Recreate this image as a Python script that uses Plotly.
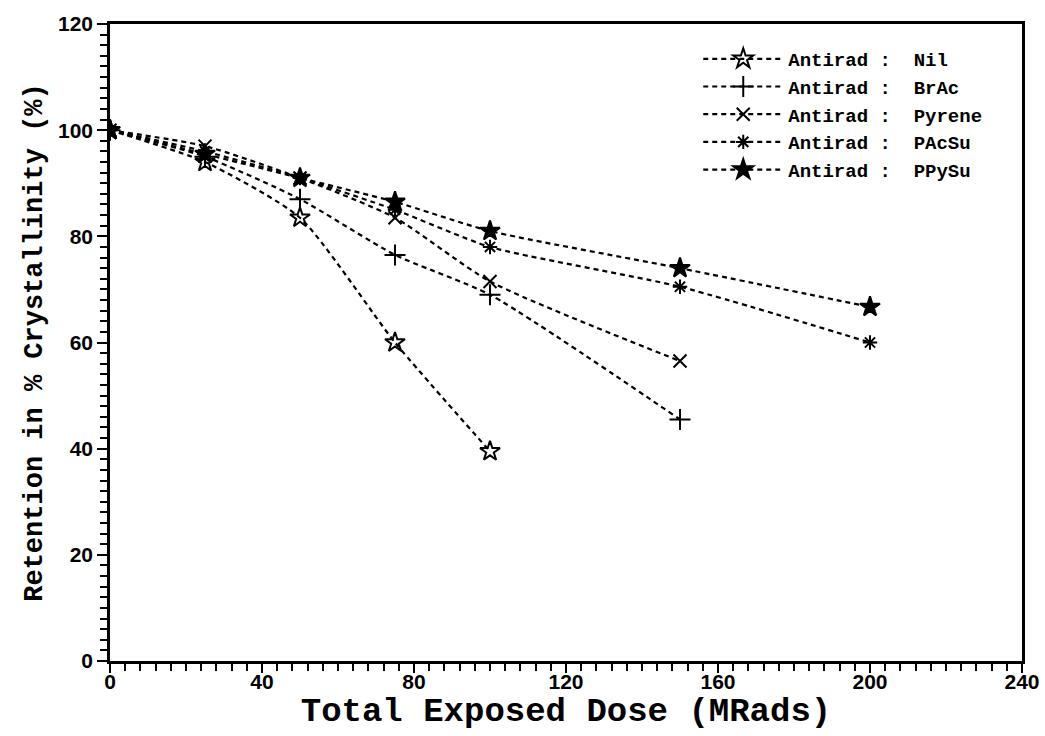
import plotly.graph_objects as go

# Radiation dose (MRads) and retained crystallinity (%) for each antirad additive
dose_nil = [0, 25, 50, 75, 100]
ret_nil = [100, 94, 83.5, 60, 39.5]

dose_brac = [0, 25, 50, 75, 100, 150]
ret_brac = [100, 95, 87, 76.5, 69, 45.5]

dose_pyrene = [0, 25, 50, 75, 100, 150]
ret_pyrene = [100, 97, 91, 83.5, 71.5, 56.5]

dose_pacsu = [0, 25, 50, 75, 100, 150, 200]
ret_pacsu = [100, 96, 91, 85, 78, 70.5, 60]

dose_ppysu = [0, 25, 50, 75, 100, 150, 200]
ret_ppysu = [100, 95.5, 91, 86.5, 81, 74, 66.7]

series_names = ["Nil", "BrAc", "Pyrene", "PAcSu", "PPySu"]
x_ticks = [0, 40, 80, 120, 160, 200, 240]
y_ticks = [0, 20, 40, 60, 80, 100, 120]

NB = "\u00a0"
symbols = ["star-open", "cross-thin-open", "x-thin-open", "asterisk-open", "star"]
sizes = [15, 15, 13, 12, 15]
data = [
    (dose_nil, ret_nil),
    (dose_brac, ret_brac),
    (dose_pyrene, ret_pyrene),
    (dose_pacsu, ret_pacsu),
    (dose_ppysu, ret_ppysu),
]

fig = go.Figure()
for (xs, ys), name, sym, sz in zip(data, series_names, symbols, sizes):
    fig.add_trace(go.Scatter(
        x=xs, y=ys,
        mode="lines+markers",
        name="Antirad" + NB + ":" + NB + NB + name,
        line=dict(color="black", width=2.2, dash="5px,4px", shape="spline", smoothing=0.6),
        marker=dict(symbol=sym, size=sz, color="black",
                    line=dict(color="black", width=2)),
    ))

mono = "Liberation Mono, Courier New, monospace"

fig.update_layout(
    width=1045, height=736,
    paper_bgcolor="white", plot_bgcolor="white",
    margin=dict(l=110, r=23, t=24, b=75, autoexpand=False),
    showlegend=True,
    legend=dict(
        x=0.645, y=0.975, xanchor="left", yanchor="top",
        bgcolor="rgba(0,0,0,0)",
        font=dict(family=mono, size=19, color="black", weight="bold"),
        tracegroupgap=0, itemwidth=80,
    ),
)

fig.update_xaxes(
    automargin=False,
    range=[0, 240], tickvals=x_ticks, ticktext=[str(v) for v in x_ticks],
    showgrid=False, zeroline=False,
    showline=True, linecolor="black", linewidth=2.5, mirror=True,
    ticks="outside", ticklen=9, tickwidth=2, tickcolor="black",
    ticklabelstandoff=-9,
    minor=dict(dtick=4, ticks="outside", ticklen=7, tickwidth=1.5, tickcolor="black"),
    tickfont=dict(family="Liberation Sans Narrow, Liberation Sans, Arial", size=21,
                  color="black", weight="bold"),
    title=dict(text="Total Exposed Dose (MRads)", standoff=2,
               font=dict(family=mono, size=34, color="black", weight="bold")),
)

fig.update_yaxes(
    automargin=False,
    range=[0, 120], tickvals=y_ticks, ticktext=[str(v) for v in y_ticks],
    showgrid=False, zeroline=False,
    showline=True, linecolor="black", linewidth=2.5, mirror=True,
    ticks="outside", ticklen=10, tickwidth=2, tickcolor="black",
    minor=dict(dtick=2, ticks="outside", ticklen=7, tickwidth=1.5, tickcolor="black"),
    tickfont=dict(family="Liberation Sans, Arial", size=21, color="black", weight="bold"),
    title=dict(text="Retention in % Crystallinity (%)", standoff=8,
               font=dict(family=mono, size=27, color="black", weight="bold")),
)

fig.write_html("out.html")
